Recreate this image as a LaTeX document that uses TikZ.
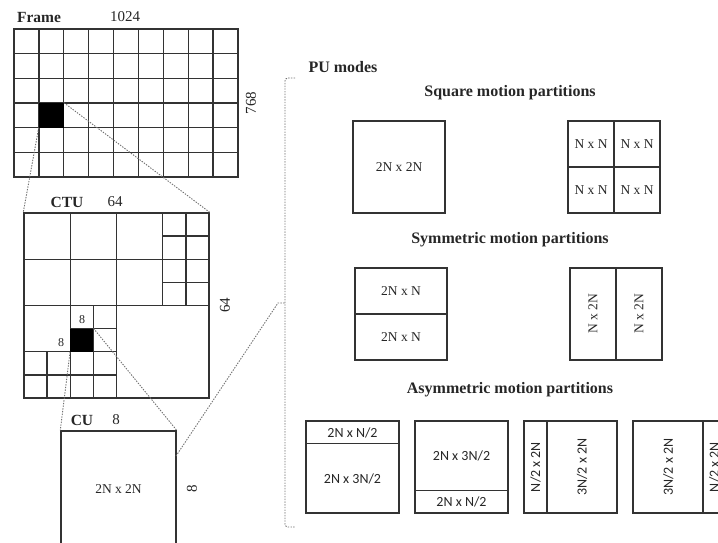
\documentclass[tikz,border=0pt]{standalone}
\usepackage{fontspec}
\setmainfont{Liberation Serif}
\newfontfamily\calibrifont{Carlito}
\usetikzlibrary{calc}
\definecolor{linegray}{HTML}{333333}
\definecolor{textgray}{HTML}{262626}
\definecolor{zoomgray}{HTML}{707070}

\begin{document}
\begin{tikzpicture}[
  x=1pt, y=-1pt,
  gridline/.style={draw=linegray, line width=1.4pt},
  blockbox/.style 2 args={rectangle, draw=linegray, line width=1.4pt, inner sep=0pt, minimum width=#1, minimum height=#2},
  cellbox/.style 2 args={rectangle, fill=black, inner sep=0pt, minimum width=#1, minimum height=#2},
  zoomline/.style={draw=zoomgray, line width=0.9pt, dash pattern=on 1.4pt off 1.3pt},
  lbl/.style={font=\fontsize{13.5}{15}\selectfont, text=textgray, inner sep=0pt},
  sizelbl/.style={font=\fontsize{15}{17}\selectfont, text=textgray, inner sep=0pt},
  smalllbl/.style={font=\fontsize{12}{14}\selectfont, text=textgray, inner sep=0pt},
  headlbl/.style={font=\bfseries\fontsize{15.5}{18}\selectfont, text=textgray, inner sep=0pt},
  titlelbl/.style={font=\bfseries\fontsize{16}{19}\selectfont, text=textgray, inner sep=0pt},
  asymlbl/.style={font=\calibrifont\fontsize{14}{16}\selectfont, text=textgray, inner sep=0pt}
]

  \useasboundingbox (0,0) rectangle (718,542);
  \clip (0,0) rectangle (718,542);

  % ==================== FRAME ====================
  \foreach \i in {1,...,8}
    \draw[gridline] (14+\i*24.889,29) -- (14+\i*24.889,177);
  \foreach \j in {1,...,5}
    \draw[gridline] (14,29+\j*24.667) -- (238,29+\j*24.667);
  \node[blockbox={224pt}{148pt}] (frame) at (126,103) {};
  \node[cellbox={24.9pt}{24.7pt}] (framecell) at (51.33,115.33) {};

  \node[headlbl] (framelbl) at (39,17) {Frame};
  \node[sizelbl] (framew) at (125,17) {1024};
  \node[sizelbl, rotate=90] (frameh) at (251,103) {768};

  % ==================== CTU ====================
  \node[blockbox={185pt}{185pt}] (ctu) at (116.5,305.5) {};
  \begin{scope}[shift={(24,213)}, x=23.125pt, y=-23.125pt]
    % 32 x 32 split
    \draw[gridline] (4,0) -- (4,8);
    \draw[gridline] (0,4) -- (8,4);
    % 16 x 16 split
    \draw[gridline] (2,0) -- (2,8);
    \draw[gridline] (0,2) -- (8,2);
    \draw[gridline] (6,0) -- (6,4);
    \draw[gridline] (0,6) -- (4,6);
    % 8 x 8 split
    \draw[gridline] (7,0) -- (7,4);
    \draw[gridline] (6,1) -- (8,1);
    \draw[gridline] (6,3) -- (8,3);
    \draw[gridline] (3,4) -- (3,8);
    \draw[gridline] (2,5) -- (4,5);
    \draw[gridline] (1,6) -- (1,8);
    \draw[gridline] (0,7) -- (4,7);
    \node[cellbox={23.125pt}{23.125pt}] (ctucell) at (2.5,5.5) {};
  \end{scope}

  \node[headlbl] (ctulbl) at (67,202) {CTU};
  \node[sizelbl] (ctuw) at (115,202) {64};
  \node[sizelbl, rotate=90] (ctuh) at (225,305) {64};
  \node[smalllbl] (cellw) at (82,320) {8};
  \node[smalllbl] (cellh) at (61,343) {8};

  % ==================== CU ====================
  \node[blockbox={115pt}{116pt}, lbl] (cu) at (118.5,489) {2N x 2N};
  \node[headlbl] (culbl) at (82,420) {CU};
  \node[sizelbl] (cuw) at (116,420) {8};
  \node[sizelbl, rotate=90] (cuh) at (192,489) {8};

  % Zoom connectors
  \draw[zoomline] (framecell.south west) -- (ctu.north west);
  \draw[zoomline] (framecell.north east) -- (ctu.north east);
  \draw[zoomline] (ctucell.south west) -- (cu.north west);
  \draw[zoomline] (ctucell.north east) -- (cu.north east);
  \coordinate (cuout) at (176,456);
  \coordinate (pumid) at (278,303);
  \draw[zoomline] (cuout) -- (pumid) -- (285,303);

  % PU bracket
  \coordinate (putop) at (295,78);
  \coordinate (pubot) at (295,527);
  \draw[zoomline, rounded corners=3pt] (putop) -- (285,78) -- (285,527) -- (pubot);

  % ==================== PU MODES ====================
  \node[titlelbl] (pulbl) at (343,67) {PU modes};

  % Square
  \node[titlelbl] (sqlbl) at (510,93) {Square motion partitions};
  \node[blockbox={92pt}{92pt}, lbl] (sqfull) at (399,167) {2N x 2N};
  \node[blockbox={92pt}{92pt}] (sqquad) at (614,167) {};
  \draw[gridline] (sqquad.north) -- (sqquad.south);
  \draw[gridline] (sqquad.west) -- (sqquad.east);
  \foreach \px/\py [count=\k] in {591/144, 637/144, 591/190, 637/190}
    \node[lbl] (sqquad\k) at (\px,\py) {N x N};

  % Symmetric
  \node[titlelbl] (symlbl) at (510,240) {Symmetric motion partitions};
  \node[blockbox={92pt}{92pt}] (symh) at (401,314) {};
  \draw[gridline] (symh.west) -- (symh.east);
  \node[lbl] (symh1) at (401,291) {2N x N};
  \node[lbl] (symh2) at (401,337) {2N x N};
  \node[blockbox={92pt}{92pt}] (symv) at (616,314) {};
  \draw[gridline] (symv.north) -- (symv.south);
  \node[lbl, rotate=90] (symv1) at (593,314) {N x 2N};
  \node[lbl, rotate=90] (symv2) at (639,314) {N x 2N};

  % Asymmetric
  \node[titlelbl] (asymlbl) at (510,390) {Asymmetric motion partitions};
  \node[blockbox={93pt}{92pt}] (asymup) at (352.5,467) {};
  \draw[gridline] ($(asymup.north west)!0.25!(asymup.south west)$) -- ($(asymup.north east)!0.25!(asymup.south east)$);
  \node[asymlbl] (asymup1) at (352.5,432.5) {2N x N/2};
  \node[asymlbl] (asymup2) at (352.5,478.5) {2N x 3N/2};

  \node[blockbox={93pt}{92pt}] (asymdown) at (461.5,467) {};
  \draw[gridline] ($(asymdown.north west)!0.75!(asymdown.south west)$) -- ($(asymdown.north east)!0.75!(asymdown.south east)$);
  \node[asymlbl] (asymdown1) at (461.5,455.5) {2N x 3N/2};
  \node[asymlbl] (asymdown2) at (461.5,501.5) {2N x N/2};

  \node[blockbox={93pt}{92pt}] (asymleft) at (570.5,467) {};
  \draw[gridline] ($(asymleft.north west)!0.25!(asymleft.north east)$) -- ($(asymleft.south west)!0.25!(asymleft.south east)$);
  \node[asymlbl, rotate=90] (asymleft1) at (535.6,467) {N/2 x 2N};
  \node[asymlbl, rotate=90] (asymleft2) at (582.1,467) {3N/2 x 2N};

  \node[blockbox={93pt}{92pt}] (asymright) at (679.5,467) {};
  \draw[gridline] ($(asymright.north west)!0.75!(asymright.north east)$) -- ($(asymright.south west)!0.75!(asymright.south east)$);
  \node[asymlbl, rotate=90] (asymright1) at (668.4,467) {3N/2 x 2N};
  \node[asymlbl, rotate=90] (asymright2) at (714.4,467) {N/2 x 2N};

\end{tikzpicture}
\end{document}
